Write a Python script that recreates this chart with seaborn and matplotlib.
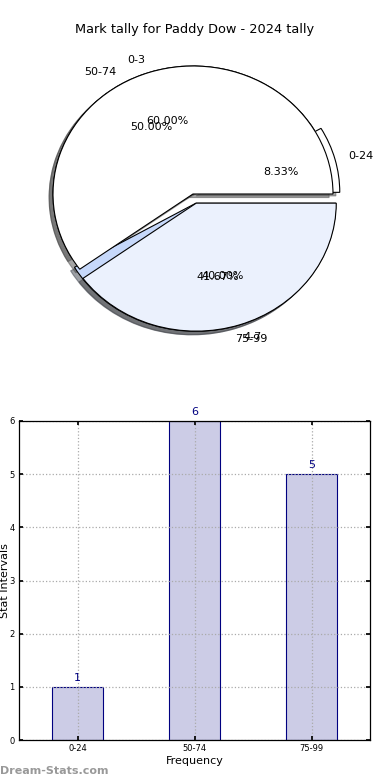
import matplotlib
matplotlib.use("Agg")
import matplotlib.pyplot as plt
import seaborn as sns

# Data
tally_bins = ["0-24", "50-74", "75-99"]
tally_counts = [1, 6, 5]

# second (overlaid) pie left on the same axes in the original
old_bins = ["0-3", "4-7"]
old_counts = [3, 2]

sns.set_theme(style="white")
plt.rcParams['font.family'] = ['DejaVu Sans']
plt.rcParams['text.color'] = 'black'
plt.rcParams['axes.labelcolor'] = 'black'
plt.rcParams['xtick.color'] = 'black'
plt.rcParams['ytick.color'] = 'black'

fig = plt.figure(figsize=(3.9, 7.8), dpi=100)

# ---- pie ----
ax1 = fig.add_axes([0, 0.5, 1, 0.5])
ax1.pie(tally_counts, labels=tally_bins, autopct='%.2f%%', startangle=0,
        explode=(0.05, 0, 0.075), shadow=True,
        colors=['white', 'white', '#c6d8fa'],
        wedgeprops=dict(edgecolor='black', linewidth=0.8),
        textprops=dict(fontsize=8, color='black'))
ax1.pie(old_counts, labels=old_bins, autopct='%.2f%%', startangle=0,
        explode=(0, 0.075), shadow=True,
        colors=['white', '#ebf1fd'],
        wedgeprops=dict(edgecolor='black', linewidth=0.8),
        textprops=dict(fontsize=8, color='black'))
ax1.set_aspect('auto')
ax1.set_xlim(-193 / 140, 197 / 140)
ax1.set_ylim(-196 / 128, 194 / 128)
ax1.axis('off')

fig.text(0.5, 1 - 30 / 780, "Mark tally for Paddy Dow - 2024 tally",
         ha='center', va='center', fontsize=9.3, color='black')

# ---- bar chart ----
ax2 = fig.add_axes([19 / 390, 40 / 780, 351 / 390, 319 / 780])
sns.barplot(x=tally_bins, y=tally_counts, ax=ax2, color='#ccccE6',
            saturation=1, edgecolor='navy', linewidth=0.8, width=0.44)
ax2.set_xlim(-0.5, 2.5)
ax2.set_ylim(0, 6)
for i, v in enumerate(tally_counts):
    ax2.text(i, v + 0.08, str(v), ha='center', va='bottom', color='navy', fontsize=8)

ax2.grid(True, linestyle=':', color='#aaaaaa', linewidth=0.9)
ax2.set_axisbelow(False)
for sp in ax2.spines.values():
    sp.set_color('black')
    sp.set_linewidth(0.9)
    sp.set_zorder(4)
ax2.tick_params(axis='both', labelsize=6, direction='in', length=3,
                top=True, right=True, bottom=True, left=True, pad=3)
ax2.set_xlabel("Frequency", fontsize=8, labelpad=2)
ax2.set_ylabel("Stat Intervals", fontsize=8)
ax2.yaxis.set_label_coords(-9 / 351, 0.5)

fig.text(0.0, 1 - 771 / 780, "Dream-Stats.com", ha='left', va='center',
         fontsize=8, color='#999999', fontweight='bold')

fig.savefig("out.png", dpi=100)
